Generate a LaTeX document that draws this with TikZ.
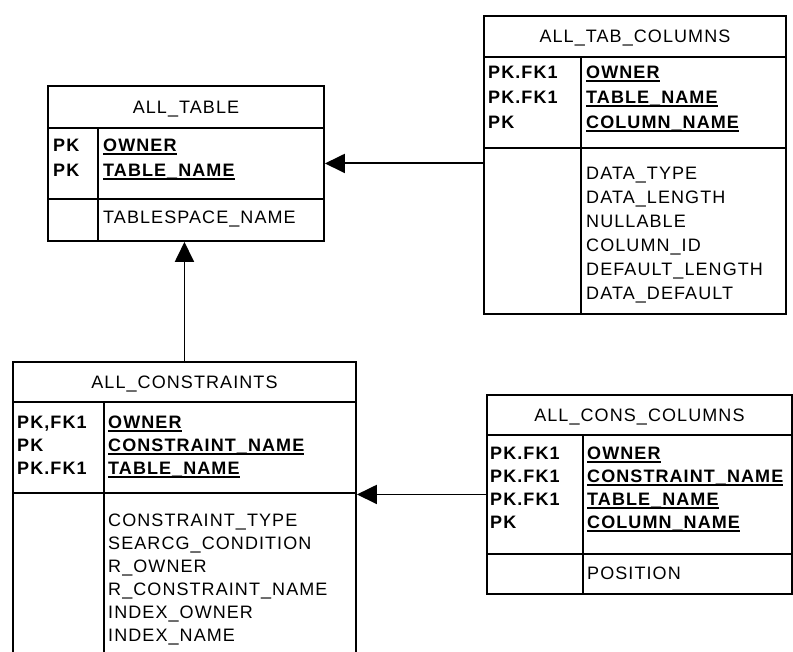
\documentclass[tikz,border=0pt]{standalone}
\usepackage{fontspec}
\usetikzlibrary{arrows.meta}
\newfontfamily\erfont{Liberation Sans}[LetterSpace=6]
\newcommand\attrfont{\erfont\fontsize{18}{24}\selectfont}
\newcommand\keyfont{\erfont\bfseries\fontsize{18}{24}\selectfont}
\newcommand\keyul[1]{\setbox0\hbox{#1}\rlap{\rule[-3.2pt]{\wd0}{1.6pt}}\box0}
\tikzset{
  frame/.style={draw, line width=1.9pt, inner sep=0pt, anchor=north west},
  ttl/.style={frame, font=\attrfont, text height=13pt, text depth=0pt},
  pklbl/.style={font=\keyfont, anchor=base west, inner sep=0pt},
  keylbl/.style={font=\keyfont, anchor=base west, inner sep=0pt},
  attrlbl/.style={font=\attrfont, anchor=base west, inner sep=0pt},
  arr/.style={line width=1.9pt, -{Triangle[length=20pt,width=19pt]}},
}
\begin{document}
\begin{tikzpicture}[x=1pt,y=-1pt]
\clip (0,0) rectangle (793,652);
\fill[white] (0,0) rectangle (793,652);

% ALL_TABLE
\node[frame, minimum width=276pt, minimum height=155pt] (Tbox) at (47,85) {};
\node[ttl, minimum width=276pt, minimum height=42pt] (Ttitle) at (47,85) {ALL\_TABLE};
\node[frame, minimum width=50pt, minimum height=71pt] (Tkl) at (47,127) {};
\node[frame, minimum width=226pt, minimum height=71pt] (Tkr) at (97,127) {};
\node[frame, minimum width=50pt, minimum height=42pt] (Tal) at (47,198) {};
\node[frame, minimum width=226pt, minimum height=42pt] (Tar) at (97,198) {};
\node[pklbl] (Tp1) at (53,151.5) {PK};
\node[pklbl] (Tp2) at (53,176.5) {PK};
\node[keylbl] (Tk1) at (103,151.5) {\keyul{OWNER}};
\node[keylbl] (Tk2) at (103,176.5) {\keyul{TABLE\_NAME}};
\node[attrlbl] (Ta1) at (103,223.5) {TABLESPACE\_NAME};

% ALL_TAB_COLUMNS
\node[frame, minimum width=302pt, minimum height=298pt] (Cbox) at (483,15) {};
\node[ttl, minimum width=302pt, minimum height=41pt] (Ctitle) at (483,15) {ALL\_TAB\_COLUMNS};
\node[frame, minimum width=97pt, minimum height=91pt] (Ckl) at (483,56) {};
\node[frame, minimum width=205pt, minimum height=91pt] (Ckr) at (580,56) {};
\node[frame, minimum width=97pt, minimum height=166pt] (Cal) at (483,147) {};
\node[frame, minimum width=205pt, minimum height=166pt] (Car) at (580,147) {};
\node[pklbl] (Cp1) at (488,78.5) {PK.FK1};
\node[pklbl] (Cp2) at (488,103.5) {PK.FK1};
\node[pklbl] (Cp3) at (488,128.5) {PK};
\node[keylbl] (Ck1) at (586,78.5) {\keyul{OWNER}};
\node[keylbl] (Ck2) at (586,103.5) {\keyul{TABLE\_NAME}};
\node[keylbl] (Ck3) at (586,128.5) {\keyul{COLUMN\_NAME}};
\node[attrlbl] (Ca1) at (586,179.5) {DATA\_TYPE};
\node[attrlbl] (Ca2) at (586,203.5) {DATA\_LENGTH};
\node[attrlbl] (Ca3) at (586,227.5) {NULLABLE};
\node[attrlbl] (Ca4) at (586,251.5) {COLUMN\_ID};
\node[attrlbl] (Ca5) at (586,275.5) {DEFAULT\_LENGTH};
\node[attrlbl] (Ca6) at (586,299.5) {DATA\_DEFAULT};

% ALL_CONSTRAINTS
\node[frame, minimum width=343pt, minimum height=304pt] (Kbox) at (12,361) {};
\node[ttl, minimum width=343pt, minimum height=40pt] (Ktitle) at (12,361) {ALL\_CONSTRAINTS};
\node[frame, minimum width=91pt, minimum height=91pt] (Kkl) at (12,401) {};
\node[frame, minimum width=252pt, minimum height=91pt] (Kkr) at (103,401) {};
\node[frame, minimum width=91pt, minimum height=173pt] (Kal) at (12,492) {};
\node[frame, minimum width=252pt, minimum height=173pt] (Kar) at (103,492) {};
\node[pklbl] (Kp1) at (17,428.5) {PK,FK1};
\node[pklbl] (Kp2) at (17,451.5) {PK};
\node[pklbl] (Kp3) at (17,474.5) {PK.FK1};
\node[keylbl] (Kk1) at (108,428.5) {\keyul{OWNER}};
\node[keylbl] (Kk2) at (108,451.5) {\keyul{CONSTRAINT\_NAME}};
\node[keylbl] (Kk3) at (108,474.5) {\keyul{TABLE\_NAME}};
\node[attrlbl] (Ka1) at (108,526.5) {CONSTRAINT\_TYPE};
\node[attrlbl] (Ka2) at (108,549.5) {SEARCG\_CONDITION};
\node[attrlbl] (Ka3) at (108,572.5) {R\_OWNER};
\node[attrlbl] (Ka4) at (108,595.5) {R\_CONSTRAINT\_NAME};
\node[attrlbl] (Ka5) at (108,618.5) {INDEX\_OWNER};
\node[attrlbl] (Ka6) at (108,641.5) {INDEX\_NAME};

% ALL_CONS_COLUMNS
\node[frame, minimum width=305pt, minimum height=199pt] (Sbox) at (486,394) {};
\node[ttl, minimum width=305pt, minimum height=40pt] (Stitle) at (486,394) {ALL\_CONS\_COLUMNS};
\node[frame, minimum width=96pt, minimum height=119pt] (Skl) at (486,434) {};
\node[frame, minimum width=209pt, minimum height=119pt] (Skr) at (582,434) {};
\node[frame, minimum width=96pt, minimum height=40pt] (Sal) at (486,553) {};
\node[frame, minimum width=209pt, minimum height=40pt] (Sar) at (582,553) {};
\node[pklbl] (Sp1) at (490,459.5) {PK.FK1};
\node[pklbl] (Sp2) at (490,482.5) {PK.FK1};
\node[pklbl] (Sp3) at (490,505.5) {PK.FK1};
\node[pklbl] (Sp4) at (490,528.5) {PK};
\node[keylbl] (Sk1) at (587,459.5) {\keyul{OWNER}};
\node[keylbl] (Sk2) at (587,482.5) {\keyul{CONSTRAINT\_NAME}};
\node[keylbl] (Sk3) at (587,505.5) {\keyul{TABLE\_NAME}};
\node[keylbl] (Sk4) at (587,528.5) {\keyul{COLUMN\_NAME}};
\node[attrlbl] (Sa1) at (587,579.5) {POSITION};

% connectors
\draw[arr] (Cal.west |- Tkr.east) -- (Tkr.east);
\draw[arr] (Kbox.north) -- (Kbox.north |- Tbox.south);
\draw[arr] (Skl.west) -- (Skl.west -| Kbox.east);
\end{tikzpicture}
\end{document}
